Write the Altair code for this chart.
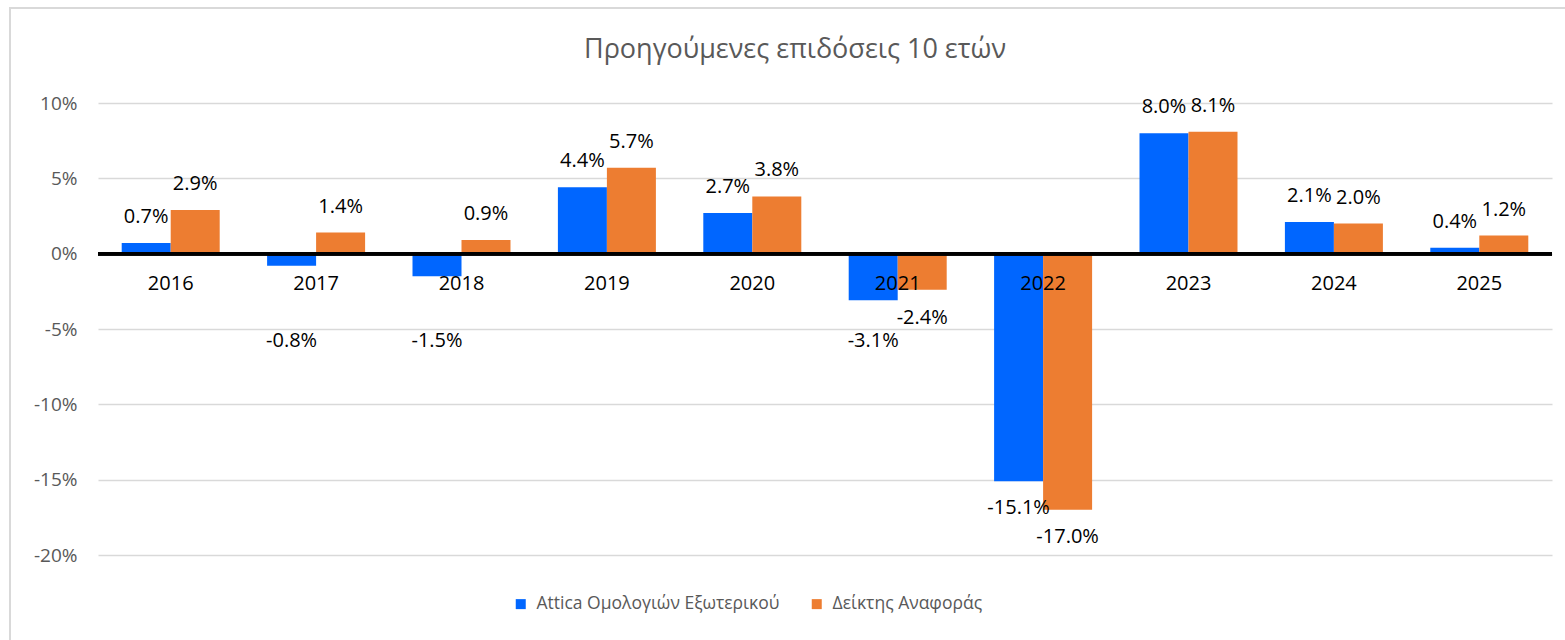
import altair as alt
import pandas as pd

# ---- data ----
years = ["2016", "2017", "2018", "2019", "2020", "2021", "2022", "2023", "2024", "2025"]
attica = [0.7, -0.8, -1.5, 4.4, 2.7, -3.1, -15.1, 8.0, 2.1, 0.4]
benchmark = [2.9, 1.4, 0.9, 5.7, 3.8, -2.4, -17.0, 8.1, 2.0, 1.2]
series_names = ["Attica Ομολογιών Εξωτερικού", "Δείκτης Αναφοράς"]
series_colors = ["#0066FF", "#ED7D31"]
y_ticks = [-20, -15, -10, -5, 0, 5, 10]
title_text = "Προηγούμενες επιδόσεις 10 ετών"

rows = []
for i, y in enumerate(years):
    rows.append({"year": y, "series": series_names[0], "value": attica[i]})
    rows.append({"year": y, "series": series_names[1], "value": benchmark[i]})
df = pd.DataFrame(rows)

FONT = "Open Sans"
GRAY = "#595959"
W, H = 1454, 452
PAD_L, PAD_T = 98, 103

x_enc = alt.X("year:N",
              scale=alt.Scale(paddingInner=0.326, paddingOuter=0.163),
              axis=None)
xoff_enc = alt.XOffset("series:N")
y_scale = alt.Scale(domain=[-20, 10], nice=False, zero=False)

base = alt.Chart(df)

bars = base.mark_bar().encode(
    x=x_enc,
    xOffset=xoff_enc,
    y=alt.Y("value:Q", scale=y_scale, title=None,
            axis=alt.Axis(values=y_ticks, labelExpr="datum.value + '%'",
                          grid=True, gridColor="#d9d9d9", gridWidth=1.5,
                          domain=False, ticks=False, labelPadding=21,
                          labelFont=FONT, labelFontSize=19, labelColor=GRAY)),
    color=alt.Color("series:N",
                    scale=alt.Scale(domain=series_names, range=series_colors),
                    legend=alt.Legend(title=None, orient="none", direction="horizontal",
                                      legendX=414, legendY=492, padding=0,
                                      symbolType="square", symbolSize=100,
                                      symbolStrokeWidth=0, columnPadding=28,
                                      labelOffset=7, labelFont=FONT, labelLimit=500,
                                      labelFontSize=17.5, labelColor=GRAY)),
)

label_calc = "(datum.value < 0 ? '-' : '') + format(abs(datum.value), '.1f') + '%'"

pos_labels = base.transform_filter("datum.value >= 0").transform_calculate(
    lbl=label_calc
).mark_text(font=FONT, fontSize=20, color="#000000", baseline="middle", dy=-26).encode(
    x=x_enc, xOffset=xoff_enc,
    y=alt.Y("value:Q", scale=y_scale),
    text="lbl:N",
)

# negative labels are kept below the category labels (blue ones a little lower)
neg_labels = base.transform_filter("datum.value < 0").transform_calculate(
    lbl=label_calc,
    ly="datum.series === '%s' ? min(datum.value, -4.0) : min(datum.value, -2.5)" % series_names[0],
).mark_text(font=FONT, fontSize=20, color="#000000", baseline="middle", dy=27).encode(
    x=x_enc, xOffset=xoff_enc,
    y=alt.Y("ly:Q", scale=y_scale),
    text="lbl:N",
)

first_series = base.transform_filter(
    alt.datum.series == series_names[0]
).transform_calculate(zero="0")

zero_line = first_series.mark_rule(color="#000000", strokeWidth=3).encode(
    y=alt.Y("zero:Q", scale=y_scale)
)

cat_labels = first_series.mark_text(
    font=FONT, fontSize=20, color="#000000", baseline="middle", dy=30
).encode(
    x=x_enc, y=alt.Y("zero:Q", scale=y_scale), text="year:N"
)

one_row = first_series.transform_filter(alt.datum.year == years[0]).transform_calculate(
    ttl="'%s'" % title_text
)

border = one_row.mark_rect(fillOpacity=0, stroke="#d9d9d9", strokeWidth=2).encode(
    x=alt.value(-88), x2=alt.value(1600), y=alt.value(-95), y2=alt.value(700)
)

title = one_row.mark_text(
    font=FONT, fontSize=27, color=GRAY, baseline="alphabetic", align="center"
).encode(text="ttl:N", x=alt.value(697), y=alt.value(-45))

chart = alt.layer(
    border, bars, zero_line, cat_labels, pos_labels, neg_labels, title
).properties(
    width=W, height=H,
    autosize=alt.AutoSizeParams(type="none"),
    padding={"left": PAD_L, "top": PAD_T, "right": 1565 - PAD_L - W, "bottom": 640 - PAD_T - H},
    background="#ffffff",
).configure_view(stroke=None)

chart.save("out.html", embed_options={"renderer": "svg", "actions": False})
